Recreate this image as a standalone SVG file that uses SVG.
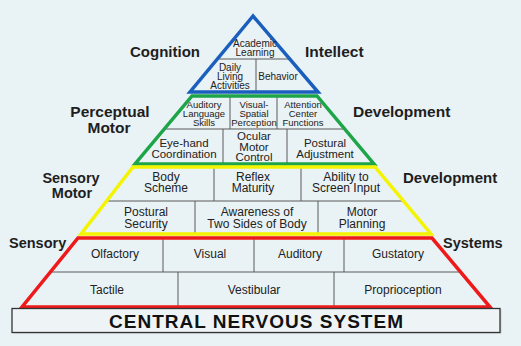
<svg xmlns="http://www.w3.org/2000/svg" width="521" height="346" viewBox="0 0 521 346">
<style>
.bg{fill:#e9f2f5}
.t{font-family:"Liberation Sans",Arial,sans-serif;fill:#222;text-anchor:middle}
.s10{font-size:10px}
.s95{font-size:9.5px}
.s12{font-size:12px}
.s115{font-size:11.5px}
.lab{font-family:"Liberation Sans",Arial,sans-serif;font-weight:bold;fill:#1e1e1e;font-size:15px}
.div{stroke:#5a5a5a;stroke-width:1;fill:none}
.edge{fill:none;stroke-width:3.5;stroke-linejoin:miter}
</style>
<rect class="bg" x="0" y="0" width="521" height="346"/>

<!-- side labels -->
<g id="side-labels">
<text class="lab" x="130" y="57">Cognition</text>
<text class="lab" x="305" y="57" style="font-size:15.5px">Intellect</text>
<text class="lab" x="110" y="117" text-anchor="middle" style="font-size:15.5px">Perceptual</text>
<text class="lab" x="109" y="133" text-anchor="middle" style="font-size:15.5px">Motor</text>
<text class="lab" x="353" y="117" style="font-size:15.5px">Development</text>
<text class="lab" x="71" y="183" text-anchor="middle" style="font-size:14.5px">Sensory</text>
<text class="lab" x="72" y="198" text-anchor="middle" style="font-size:14.5px">Motor</text>
<text class="lab" x="403" y="183">Development</text>
<text class="lab" x="9" y="248" style="font-size:14.5px">Sensory</text>
<text class="lab" x="443" y="248" style="font-size:14.5px">Systems</text>
</g>

<!-- divider lines -->
<g id="connectors">
<line class="div" x1="218" y1="59" x2="289" y2="59"/>
<line class="div" x1="256" y1="59" x2="256" y2="91"/>
<line class="div" x1="164" y1="129" x2="345" y2="129"/>
<line class="div" x1="230" y1="97" x2="230" y2="129"/>
<line class="div" x1="277" y1="97" x2="277" y2="129"/>
<line class="div" x1="223" y1="129" x2="223" y2="163"/>
<line class="div" x1="287" y1="129" x2="287" y2="163"/>
<line class="div" x1="106" y1="201" x2="403" y2="201"/>
<line class="div" x1="214" y1="168" x2="214" y2="201"/>
<line class="div" x1="301" y1="168" x2="301" y2="201"/>
<line class="div" x1="195" y1="201" x2="195" y2="233"/>
<line class="div" x1="318" y1="201" x2="318" y2="233"/>
<line class="div" x1="50" y1="272" x2="461" y2="272"/>
<line class="div" x1="163" y1="238" x2="163" y2="272"/>
<line class="div" x1="254" y1="238" x2="254" y2="272"/>
<line class="div" x1="344" y1="238" x2="344" y2="272"/>
<line class="div" x1="178" y1="272" x2="178" y2="306"/>
<line class="div" x1="334" y1="272" x2="334" y2="306"/>
</g>

<!-- layer outlines -->
<g id="layer-cognition">
<polygon class="edge" points="253,16 190,92 318,92" stroke="#1b5fbe"/>
</g>
<g id="layer-perceptual">
<polygon class="edge" points="192,96 317,96 374,164 135,164" stroke="#1ea54a"/>
</g>
<g id="layer-sensorymotor">
<polygon class="edge" points="133,167 375,167 431,234 81,234" stroke="#f4f400"/>
</g>
<g id="layer-sensory">
<polygon class="edge" points="78,238 432,238 490,307 22,307" stroke="#ee1a1a"/>
</g>

<!-- cognition cells -->
<g id="academic-learning"><text class="t s10" x="255" y="47">Academic</text><text class="t s10" x="255" y="56">Learning</text></g>
<g id="daily-living"><text class="t s10" x="230" y="71">Daily</text><text class="t s10" x="230" y="80">Living</text><text class="t s10" x="230" y="89">Activities</text></g>
<g id="behavior"><text class="t s10" x="278" y="80">Behavior</text></g>

<!-- perceptual motor cells -->
<g id="auditory-language"><text class="t s95" x="204" y="108">Auditory</text><text class="t s95" x="204" y="117">Language</text><text class="t s95" x="204" y="126">Skills</text></g>
<g id="visual-spatial"><text class="t s95" x="254" y="108">Visual-</text><text class="t s95" x="254" y="117">Spatial</text><text class="t s95" x="254" y="126">Perception</text></g>
<g id="attention-center"><text class="t s95" x="303" y="108">Attention</text><text class="t s95" x="303" y="117">Center</text><text class="t s95" x="303" y="126">Functions</text></g>
<g id="eye-hand"><text class="t s115" x="184" y="147">Eye-hand</text><text class="t s115" x="184" y="158">Coordination</text></g>
<g id="ocular-motor"><text class="t s115" x="254" y="140">Ocular</text><text class="t s115" x="254" y="151">Motor</text><text class="t s115" x="254" y="161">Control</text></g>
<g id="postural-adjustment"><text class="t s115" x="325" y="147">Postural</text><text class="t s115" x="325" y="158">Adjustment</text></g>

<!-- sensory motor cells -->
<g id="body-scheme"><text class="t s12" x="166" y="181">Body</text><text class="t s12" x="166" y="192">Scheme</text></g>
<g id="reflex-maturity"><text class="t s12" x="253" y="181">Reflex</text><text class="t s12" x="253" y="192">Maturity</text></g>
<g id="screen-input"><text class="t s12" x="346" y="181">Ability to</text><text class="t s12" x="346" y="192">Screen Input</text></g>
<g id="postural-security"><text class="t s12" x="146" y="216">Postural</text><text class="t s12" x="146" y="228">Security</text></g>
<g id="two-sides"><text class="t s12" x="257" y="216">Awareness of</text><text class="t s12" x="257" y="228">Two Sides of Body</text></g>
<g id="motor-planning"><text class="t s12" x="362" y="216">Motor</text><text class="t s12" x="362" y="228">Planning</text></g>

<!-- sensory systems cells -->
<g id="olfactory"><text class="t s12" x="115" y="258">Olfactory</text></g>
<g id="visual"><text class="t s12" x="210" y="258">Visual</text></g>
<g id="auditory"><text class="t s12" x="300" y="258">Auditory</text></g>
<g id="gustatory"><text class="t s12" x="398" y="258">Gustatory</text></g>
<g id="tactile"><text class="t s12" x="107" y="294">Tactile</text></g>
<g id="vestibular"><text class="t s12" x="254" y="294">Vestibular</text></g>
<g id="proprioception"><text class="t s12" x="403" y="294">Proprioception</text></g>

<!-- base -->
<g id="central-nervous-system">
<rect x="13.5" y="309.5" width="488" height="24" fill="#c9cfd1"/>
<rect x="12" y="308.5" width="488" height="24" fill="#eef4f6" stroke="#333" stroke-width="1.3"/>
<text class="t" x="256" y="327.5" style="font-size:19px;font-weight:bold;fill:#111" textLength="294" lengthAdjust="spacing">CENTRAL NERVOUS SYSTEM</text>
</g>
</svg>
